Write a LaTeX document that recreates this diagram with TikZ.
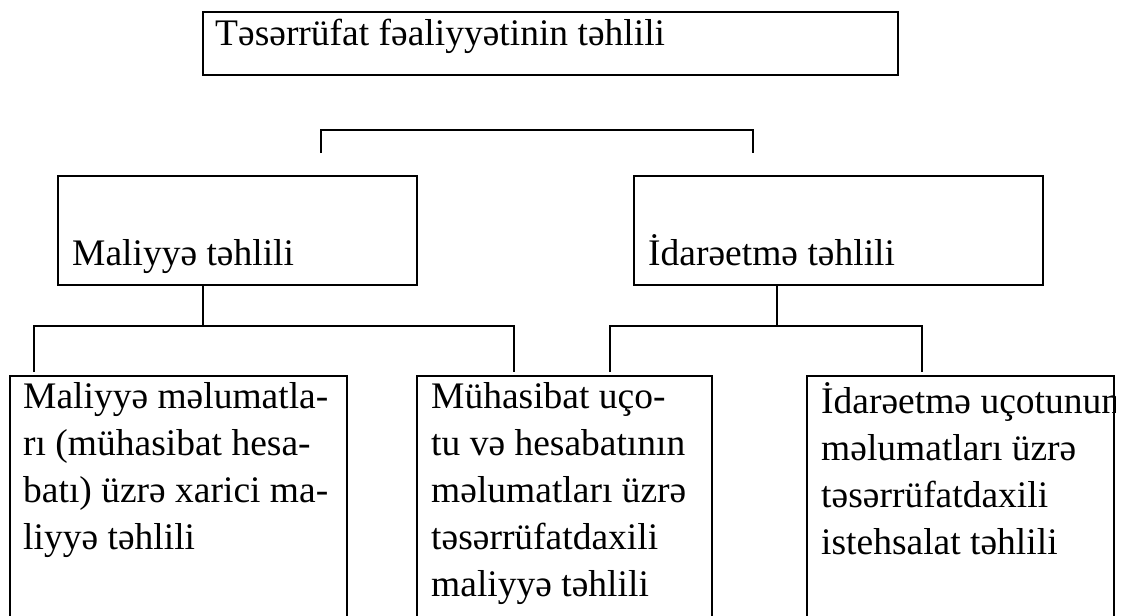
\documentclass[tikz,border=0pt]{standalone}
\usepackage{fontspec}
\setmainfont{Liberation Serif}
\usetikzlibrary{positioning,calc}

\begin{document}
\begin{tikzpicture}[x=1pt,y=-1pt,
  box/.style={draw,line width=2.4pt,inner sep=0pt,anchor=north west},
  txt/.style={inner sep=0pt,font=\fontsize{37.5}{47}\selectfont},
  para/.style={txt,anchor=north west,align=left},
  link/.style={line width=1.4pt}]
\clip (0,0) rectangle (1131,615);
% blocks
\node[box,minimum width=695pt,minimum height=63pt] (main) at (202,11) {};
\node[box,minimum width=359pt,minimum height=109pt] (fin) at (57,175) {};
\node[box,minimum width=409pt,minimum height=109pt] (mgmt) at (633,175) {};
\node[box,minimum width=337pt,minimum height=260pt] (ext) at (9,375) {};
\node[box,minimum width=295pt,minimum height=260pt] (acc) at (416,375) {};
\node[box,minimum width=307pt,minimum height=260pt] (prod) at (806,375) {};
% texts
\node[txt,anchor=base west] (maint) at (215,46) {Təsərrüfat fəaliyyətinin təhlili};
\node[txt,anchor=base west] (fint) at (72,265) {Maliyyə təhlili};
\node[txt,anchor=base west] (mgmtt) at (648,265) {İdarəetmə təhlili};
\node[para] (extt) at (23,382) {Maliyyə məlumatla-\\rı (mühasibat hesa-\\batı) üzrə xarici ma-\\liyyə təhlili};
\node[para] (acct) at (431,382) {Mühasibat uço-\\tu və hesabatının\\məlumatları üzrə\\təsərrüfatdaxili\\maliyyə təhlili};
\begin{scope}
\clip (prod.north west) rectangle (prod.south east);
\node[para] (prodt) at (821,382) {İdarəetmə uçotunun\\məlumatları üzrə\\təsərrüfatdaxili\\istehsalat təhlili};
\end{scope}
% brackets
\coordinate (topl) at (321,153); \coordinate (topr) at (753,153);
\coordinate (finj) at (203,326); \coordinate (mgmtj) at (777,326);
\coordinate (extup) at (34,372); \coordinate (accl) at (514,372);
\coordinate (accr) at (610,372); \coordinate (produp) at (922,372);
\draw[link] (topl) -- ++(0,-23) -| (topr);
\draw[link] (fin.south -| finj) -- (finj);
\draw[link] (mgmt.south -| mgmtj) -- (mgmtj);
\draw[link] (extup) |- (finj) -| (accl);
\draw[link] (accr) |- (mgmtj) -| (produp);
\end{tikzpicture}
\end{document}
